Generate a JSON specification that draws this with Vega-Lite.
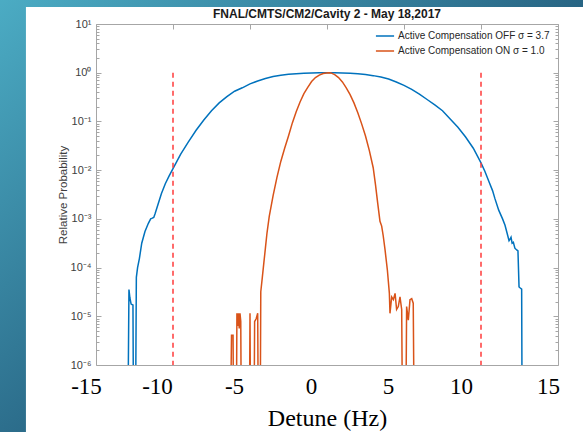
{
  "$schema": "https://vega.github.io/schema/vega-lite/v6.json",
  "width": 462,
  "height": 341,
  "autosize": {"type": "none"},
  "padding": {"left": 96, "top": 24, "right": 25, "bottom": 67},
  "background": "#24557a",
  "title": {"text": "FNAL/CMTS/CM2/Cavity 2 - May 18,2017", "font": "Liberation Sans", "fontSize": 12, "fontWeight": "bold", "color": "#1a1a1a", "anchor": "middle", "offset": -21},
  "config": {"view": {"stroke": null}, "axis": {"grid": false, "domain": true, "domainColor": "#a6a6a6", "domainWidth": 1, "zindex": 1}},
  "datasets": {
    "curves": [
      {"s": "OFF", "x": -12.95, "p": 1e-8},
      {"s": "OFF", "x": -12.86, "p": 3.55e-5},
      {"s": "OFF", "x": -12.8, "p": 2.4e-5},
      {"s": "OFF", "x": -12.72, "p": 1.78e-5},
      {"s": "OFF", "x": -12.6, "p": 1.7e-5},
      {"s": "OFF", "x": -12.55, "p": 1e-8},
      {"s": "OFF", "x": -12.45, "p": 1e-8},
      {"s": "OFF", "x": -12.38, "p": 6.3e-5},
      {"s": "OFF", "x": -12.3, "p": 1.0e-4},
      {"s": "OFF", "x": -12.18, "p": 1.55e-4},
      {"s": "OFF", "x": -12.03, "p": 3.16e-4},
      {"s": "OFF", "x": -11.82, "p": 5.5e-4},
      {"s": "OFF", "x": -11.6, "p": 8.1e-4},
      {"s": "OFF", "x": -11.45, "p": 1.0e-3},
      {"s": "OFF", "x": -11.38, "p": 1.02e-3},
      {"s": "OFF", "x": -11.25, "p": 1.07e-3},
      {"s": "OFF", "x": -11.17, "p": 1.26e-3},
      {"s": "OFF", "x": -10.95, "p": 2.1e-3},
      {"s": "OFF", "x": -10.75, "p": 3.3e-3},
      {"s": "OFF", "x": -10.5, "p": 5.25e-3},
      {"s": "OFF", "x": -10.25, "p": 7.6e-3},
      {"s": "OFF", "x": -10.0, "p": 0.0107},
      {"s": "OFF", "x": -9.75, "p": 0.0151},
      {"s": "OFF", "x": -9.5, "p": 0.0214},
      {"s": "OFF", "x": -9.0, "p": 0.038},
      {"s": "OFF", "x": -8.5, "p": 0.066},
      {"s": "OFF", "x": -8.0, "p": 0.107},
      {"s": "OFF", "x": -7.5, "p": 0.166},
      {"s": "OFF", "x": -7.0, "p": 0.24},
      {"s": "OFF", "x": -6.5, "p": 0.324},
      {"s": "OFF", "x": -6.0, "p": 0.417},
      {"s": "OFF", "x": -5.5, "p": 0.49},
      {"s": "OFF", "x": -5.0, "p": 0.589},
      {"s": "OFF", "x": -4.5, "p": 0.676},
      {"s": "OFF", "x": -4.0, "p": 0.759},
      {"s": "OFF", "x": -3.5, "p": 0.832},
      {"s": "OFF", "x": -3.0, "p": 0.891},
      {"s": "OFF", "x": -2.5, "p": 0.929},
      {"s": "OFF", "x": -2.0, "p": 0.957},
      {"s": "OFF", "x": -1.5, "p": 0.977},
      {"s": "OFF", "x": -1.0, "p": 0.989},
      {"s": "OFF", "x": -0.5, "p": 0.995},
      {"s": "OFF", "x": 0.0, "p": 1.0},
      {"s": "OFF", "x": 0.5, "p": 0.996},
      {"s": "OFF", "x": 1.0, "p": 0.986},
      {"s": "OFF", "x": 1.5, "p": 0.973},
      {"s": "OFF", "x": 2.0, "p": 0.951},
      {"s": "OFF", "x": 2.5, "p": 0.918},
      {"s": "OFF", "x": 3.0, "p": 0.871},
      {"s": "OFF", "x": 3.5, "p": 0.813},
      {"s": "OFF", "x": 4.0, "p": 0.741},
      {"s": "OFF", "x": 4.5, "p": 0.646},
      {"s": "OFF", "x": 5.0, "p": 0.55},
      {"s": "OFF", "x": 5.5, "p": 0.457},
      {"s": "OFF", "x": 6.0, "p": 0.363},
      {"s": "OFF", "x": 6.5, "p": 0.282},
      {"s": "OFF", "x": 7.0, "p": 0.219},
      {"s": "OFF", "x": 7.5, "p": 0.166},
      {"s": "OFF", "x": 8.0, "p": 0.112},
      {"s": "OFF", "x": 8.5, "p": 0.0759},
      {"s": "OFF", "x": 9.0, "p": 0.0479},
      {"s": "OFF", "x": 9.5, "p": 0.0282},
      {"s": "OFF", "x": 10.0, "p": 0.0141},
      {"s": "OFF", "x": 10.25, "p": 9.5e-3},
      {"s": "OFF", "x": 10.5, "p": 6.0e-3},
      {"s": "OFF", "x": 10.75, "p": 3.8e-3},
      {"s": "OFF", "x": 10.9, "p": 2.63e-3},
      {"s": "OFF", "x": 11.15, "p": 1.51e-3},
      {"s": "OFF", "x": 11.4, "p": 1.0e-3},
      {"s": "OFF", "x": 11.56, "p": 7.4e-4},
      {"s": "OFF", "x": 11.7, "p": 5.0e-4},
      {"s": "OFF", "x": 11.82, "p": 3.55e-4},
      {"s": "OFF", "x": 11.88, "p": 3.8e-4},
      {"s": "OFF", "x": 11.95, "p": 4.2e-4},
      {"s": "OFF", "x": 12.02, "p": 3.16e-4},
      {"s": "OFF", "x": 12.1, "p": 3.3e-4},
      {"s": "OFF", "x": 12.2, "p": 2.5e-4},
      {"s": "OFF", "x": 12.32, "p": 2.3e-4},
      {"s": "OFF", "x": 12.4, "p": 2.2e-4},
      {"s": "OFF", "x": 12.47, "p": 4.0e-5},
      {"s": "OFF", "x": 12.55, "p": 3.8e-5},
      {"s": "OFF", "x": 12.64, "p": 3.6e-5},
      {"s": "OFF", "x": 12.68, "p": 1e-8},
      {"s": "ON", "x": -6.3, "p": 1e-8},
      {"s": "ON", "x": -6.2, "p": 4.1e-6},
      {"s": "ON", "x": -6.1, "p": 4.1e-6},
      {"s": "ON", "x": -6.05, "p": 1e-8},
      {"s": "ON", "x": -5.9, "p": 1e-8},
      {"s": "ON", "x": -5.85, "p": 1.15e-5},
      {"s": "ON", "x": -5.8, "p": 6.3e-6},
      {"s": "ON", "x": -5.75, "p": 1.15e-5},
      {"s": "ON", "x": -5.7, "p": 5.6e-6},
      {"s": "ON", "x": -5.65, "p": 1.15e-5},
      {"s": "ON", "x": -5.6, "p": 7.9e-6},
      {"s": "ON", "x": -5.55, "p": 1e-8},
      {"s": "ON", "x": -5.05, "p": 1e-8},
      {"s": "ON", "x": -5.0, "p": 1.15e-5},
      {"s": "ON", "x": -4.95, "p": 1e-8},
      {"s": "ON", "x": -4.75, "p": 1e-8},
      {"s": "ON", "x": -4.7, "p": 7.8e-6},
      {"s": "ON", "x": -4.6, "p": 8.9e-6},
      {"s": "ON", "x": -4.5, "p": 1.15e-5},
      {"s": "ON", "x": -4.45, "p": 1e-8},
      {"s": "ON", "x": -4.35, "p": 1e-8},
      {"s": "ON", "x": -4.3, "p": 3.2e-5},
      {"s": "ON", "x": -4.2, "p": 6.3e-5},
      {"s": "ON", "x": -4.1, "p": 1.26e-4},
      {"s": "ON", "x": -4.0, "p": 2.5e-4},
      {"s": "ON", "x": -3.9, "p": 5.0e-4},
      {"s": "ON", "x": -3.75, "p": 1.12e-3},
      {"s": "ON", "x": -3.5, "p": 3.0e-3},
      {"s": "ON", "x": -3.25, "p": 7.1e-3},
      {"s": "ON", "x": -3.0, "p": 0.0151},
      {"s": "ON", "x": -2.75, "p": 0.0282},
      {"s": "ON", "x": -2.5, "p": 0.0501},
      {"s": "ON", "x": -2.25, "p": 0.0933},
      {"s": "ON", "x": -2.0, "p": 0.158},
      {"s": "ON", "x": -1.75, "p": 0.251},
      {"s": "ON", "x": -1.5, "p": 0.372},
      {"s": "ON", "x": -1.25, "p": 0.501},
      {"s": "ON", "x": -1.0, "p": 0.661},
      {"s": "ON", "x": -0.75, "p": 0.794},
      {"s": "ON", "x": -0.5, "p": 0.891},
      {"s": "ON", "x": -0.25, "p": 0.966},
      {"s": "ON", "x": 0.1, "p": 1.0},
      {"s": "ON", "x": 0.25, "p": 0.99},
      {"s": "ON", "x": 0.5, "p": 0.912},
      {"s": "ON", "x": 0.75, "p": 0.794},
      {"s": "ON", "x": 1.0, "p": 0.646},
      {"s": "ON", "x": 1.25, "p": 0.49},
      {"s": "ON", "x": 1.5, "p": 0.355},
      {"s": "ON", "x": 1.75, "p": 0.24},
      {"s": "ON", "x": 2.0, "p": 0.151},
      {"s": "ON", "x": 2.25, "p": 0.0891},
      {"s": "ON", "x": 2.5, "p": 0.0501},
      {"s": "ON", "x": 2.75, "p": 0.0251},
      {"s": "ON", "x": 3.0, "p": 0.0112},
      {"s": "ON", "x": 3.15, "p": 5.0e-3},
      {"s": "ON", "x": 3.3, "p": 2.0e-3},
      {"s": "ON", "x": 3.44, "p": 8.9e-4},
      {"s": "ON", "x": 3.55, "p": 7.1e-4},
      {"s": "ON", "x": 3.65, "p": 4.5e-4},
      {"s": "ON", "x": 3.77, "p": 2.3e-4},
      {"s": "ON", "x": 3.92, "p": 8.9e-5},
      {"s": "ON", "x": 4.05, "p": 2.95e-5},
      {"s": "ON", "x": 4.09, "p": 1.15e-5},
      {"s": "ON", "x": 4.2, "p": 2.5e-5},
      {"s": "ON", "x": 4.31, "p": 2.2e-5},
      {"s": "ON", "x": 4.42, "p": 2.95e-5},
      {"s": "ON", "x": 4.52, "p": 1.38e-5},
      {"s": "ON", "x": 4.63, "p": 1.58e-5},
      {"s": "ON", "x": 4.74, "p": 2.5e-5},
      {"s": "ON", "x": 4.85, "p": 1.38e-5},
      {"s": "ON", "x": 4.92, "p": 1e-8},
      {"s": "ON", "x": 5.1, "p": 1e-8},
      {"s": "ON", "x": 5.17, "p": 1.58e-5},
      {"s": "ON", "x": 5.28, "p": 8.3e-6},
      {"s": "ON", "x": 5.39, "p": 2.2e-5},
      {"s": "ON", "x": 5.5, "p": 2.3e-5},
      {"s": "ON", "x": 5.6, "p": 1.86e-5},
      {"s": "ON", "x": 5.68, "p": 1e-8}
    ],
    "limits": [{"x": -10}, {"x": 10}]
  },
  "layer": [
    {
      "data": {"values": [{"k": "slide"}]},
      "mark": {"type": "rect", "color": {"gradient": "linear", "x1": 0, "y1": 0, "x2": 1, "y2": 1, "stops": [{"offset": 0, "color": "#4cadc5"}, {"offset": 0.5, "color": "#286584"}, {"offset": 1, "color": "#173a58"}]}},
      "encoding": {
        "x": {"datum": -22, "type": "quantitative", "scale": {"domain": [-15, 15], "nice": false, "zero": false}, "axis": null},
        "x2": {"datum": 17},
        "y": {"datum": 31.1, "type": "quantitative", "scale": {"type": "log", "domain": [1e-6, 10], "nice": false}, "axis": null},
        "y2": {"datum": 1e-9}
      }
    },
    {
      "data": {"values": [{"k": "panel"}]},
      "mark": {"type": "rect", "color": "#ffffff"},
      "encoding": {
        "x": {"datum": -19.55, "type": "quantitative", "scale": {"domain": [-15, 15], "nice": false, "zero": false}, "axis": null},
        "x2": {"datum": 17},
        "y": {"datum": 22.3, "type": "quantitative", "scale": {"type": "log", "domain": [1e-6, 10], "nice": false}, "axis": null},
        "y2": {"datum": 1e-9}
      }
    },
    {
      "data": {"name": "curves"},
      "mark": {"type": "line", "strokeWidth": 1.5, "clip": true},
      "encoding": {
        "x": {
          "field": "x", "type": "quantitative",
          "scale": {"domain": [-15, 15], "nice": false, "zero": false},
          "axis": {
            "orient": "bottom", "values": [-15, -10, -5, 0, 5, 10, 15],
            "ticks": false, "tickSize": 0, "zindex": 1,
            "labelFont": "Liberation Serif", "labelFontSize": 23, "labelColor": "#000000",
            "labelPadding": 10,
            "labelOffset": {"condition": [{"test": "abs(datum.value) == 15", "value": -10}, {"test": "datum.value == 10", "value": -20}], "value": -16},
            "labelExpr": "datum.value < 0 ? '-' + abs(datum.value) : '' + datum.value",
            "labelFlush": false, "labelOverlap": false,
            "title": "Detune (Hz)", "titleFont": "Liberation Serif", "titleFontSize": 24,
            "titleFontWeight": "normal", "titleColor": "#000000", "titlePadding": 8
          }
        },
        "y": {
          "field": "p", "type": "quantitative",
          "scale": {"type": "log", "domain": [1e-6, 10], "nice": false},
          "axis": {
            "orient": "left", "zindex": 1,
            "values": [1e-6, 2e-6, 3e-6, 4e-6, 5e-6, 6e-6, 7e-6, 8e-6, 9e-6, 1e-5, 2e-5, 3e-5, 4e-5, 5e-5, 6e-5, 7e-5, 8e-5, 9e-5, 1e-4, 2e-4, 3e-4, 4e-4, 5e-4, 6e-4, 7e-4, 8e-4, 9e-4, 1e-3, 2e-3, 3e-3, 4e-3, 5e-3, 6e-3, 7e-3, 8e-3, 9e-3, 1e-2, 2e-2, 3e-2, 4e-2, 5e-2, 6e-2, 7e-2, 8e-2, 9e-2, 0.1, 0.2, 0.3, 0.4, 0.5, 0.6, 0.7, 0.8, 0.9, 1, 2, 3, 4, 5, 6, 7, 8, 9, 10],
            "tickSize": {"condition": {"test": "abs(log(datum.value)/LN10 - round(log(datum.value)/LN10)) < 0.001", "value": -5}, "value": -3},
            "tickColor": "#a6a6a6",
            "labelExpr": "datum.value == 10 ? '10¹' : datum.value == 1 ? '10⁰' : datum.value == 0.1 ? '10⁻¹' : datum.value == 0.01 ? '10⁻²' : datum.value == 0.001 ? '10⁻³' : datum.value == 0.0001 ? '10⁻⁴' : datum.value == 0.00001 ? '10⁻⁵' : datum.value == 0.000001 ? '10⁻⁶' : ''",
            "labelFont": "Liberation Sans", "labelFontSize": 11, "labelColor": "#404040",
            "labelPadding": 10, "labelOverlap": false, "labelFlush": false,
            "title": "Relative Probability", "titleFont": "Liberation Sans", "titleFontSize": 11.5,
            "titleFontWeight": "normal", "titleColor": "#404040", "titlePadding": 2
          }
        },
        "color": {
          "field": "s", "type": "nominal",
          "scale": {"domain": ["OFF", "ON"], "range": ["#0072BD", "#D95319"]},
          "legend": {
            "title": null, "orient": "none", "legendX": 279, "legendY": 2, "padding": 0,
            "symbolType": "stroke", "symbolStrokeWidth": 1.5, "symbolSize": 330,
            "labelFont": "Liberation Sans", "labelFontSize": 10, "labelColor": "#262626", "labelOffset": 3,
            "labelExpr": "datum.label == 'OFF' ? 'Active Compensation OFF σ = 3.7' : 'Active Compensation ON σ = 1.0'",
            "labelLimit": 300, "rowPadding": -4
          }
        }
      }
    },
    {
      "data": {"name": "limits"},
      "mark": {"type": "rule", "color": "#ff3b3b", "strokeDash": [5, 4], "strokeWidth": 1.5},
      "encoding": {
        "x": {
          "field": "x", "type": "quantitative",
          "scale": {"domain": [-15, 15], "nice": false, "zero": false},
          "axis": {"orient": "top", "zindex": 1, "values": [-15, -10, -5, 0, 5, 10, 15], "labels": false, "tickSize": -5, "tickColor": "#a6a6a6", "title": null}
        },
        "y": {
          "datum": 1, "type": "quantitative",
          "scale": {"type": "log", "domain": [1e-6, 10], "nice": false},
          "axis": {
            "orient": "right", "zindex": 1, "labels": false, "title": null,
            "values": [1e-6, 2e-6, 3e-6, 4e-6, 5e-6, 6e-6, 7e-6, 8e-6, 9e-6, 1e-5, 2e-5, 3e-5, 4e-5, 5e-5, 6e-5, 7e-5, 8e-5, 9e-5, 1e-4, 2e-4, 3e-4, 4e-4, 5e-4, 6e-4, 7e-4, 8e-4, 9e-4, 1e-3, 2e-3, 3e-3, 4e-3, 5e-3, 6e-3, 7e-3, 8e-3, 9e-3, 1e-2, 2e-2, 3e-2, 4e-2, 5e-2, 6e-2, 7e-2, 8e-2, 9e-2, 0.1, 0.2, 0.3, 0.4, 0.5, 0.6, 0.7, 0.8, 0.9, 1, 2, 3, 4, 5, 6, 7, 8, 9, 10],
            "tickSize": {"condition": {"test": "abs(log(datum.value)/LN10 - round(log(datum.value)/LN10)) < 0.001", "value": -5}, "value": -3},
            "tickColor": "#a6a6a6"
          }
        },
        "y2": {"datum": 1e-6}
      }
    }
  ],
  "resolve": {"axis": {"x": "independent", "y": "independent"}}
}
